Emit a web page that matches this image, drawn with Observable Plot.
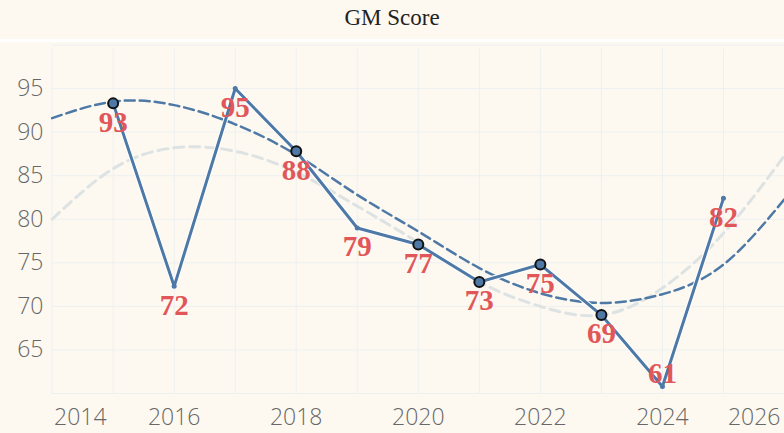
<!DOCTYPE html>
<html>
<head>
<meta charset="utf-8">
<script src="https://cdn.jsdelivr.net/npm/d3@7"></script>
<script src="https://cdn.jsdelivr.net/npm/@observablehq/plot@0.6"></script>
<style>
  html, body { margin: 0; padding: 0; background: #fdf9f1; }
  #title { height: 39px; line-height: 36px; text-align: center; font-family: "Liberation Serif", "Times New Roman", serif; font-size: 23px; color: #222; border-bottom: 3px solid #ffffff; box-sizing: content-box; }
  #chart svg { display: block; }
</style>
</head>
<body>
<div id="title">GM Score</div>
<div id="chart"></div>
<script>
const years = [2015, 2016, 2017, 2018, 2019, 2020, 2021, 2022, 2023, 2024, 2025];
const scores = [93.3, 72.3, 95.0, 87.8, 79.0, 77.1, 72.8, 74.8, 69.0, 60.8, 82.4];
const marked = [true, false, false, true, false, true, true, true, true, false, false];

const trendYears = [2014, 2015, 2016, 2017, 2018, 2019, 2020, 2021, 2022, 2023, 2024, 2025, 2026];
const trendDark = [91.6, 93.5, 93.1, 90.9, 87.4, 82.8, 78.6, 74.4, 71.5, 70.4, 71.4, 74.8, 82.3];
const trendLight = [80.0, 85.8, 88.2, 87.8, 85.4, 81.5, 77.3, 72.8, 70.0, 69.0, 72.1, 78.4, 87.3];

const yTicks = [65, 70, 75, 80, 85, 90, 95];
const yGrid = [60, 65, 70, 75, 80, 85, 90, 95, 100];
const xTicks = [2014, 2016, 2018, 2020, 2022, 2024, 2026];
const xGrid = [2014, 2015, 2016, 2017, 2018, 2019, 2020, 2021, 2022, 2023, 2024, 2025, 2026];

const data = years.map((y, i) => ({year: y, score: scores[i], marked: marked[i]}));
const trendD = trendYears.map((y, i) => ({year: y, v: trendDark[i]}));
const trendL = trendYears.map((y, i) => ({year: y, v: trendLight[i]}));

const blue = "#4e79a7", red = "#e15759", grid = "#edf0f1", axisColor = "#676767";
const tickFont = {fontSize: 23, fill: axisColor, fontFamily: "Open Sans", fontWeight: 300};
const labelFont = {fontSize: 29, fill: red, fontFamily: "Liberation Serif", fontWeight: "bold"};

const chart = Plot.plot({
  width: 784,
  height: 391,
  marginTop: 2.5,
  marginBottom: 40,
  marginLeft: 51.6,
  marginRight: 0,
  x: {domain: [2014, 2026], axis: null},
  y: {domain: [60, 100], axis: null},
  style: {background: "transparent", overflow: "visible"},
  marks: [
    Plot.ruleY(yGrid, {y: d => d, stroke: grid, strokeWidth: 1}),
    Plot.ruleX(xGrid, {x: d => d, y1: 60, y2: 100, stroke: grid, strokeWidth: 1, insetBottom: -4}),
    Plot.text(yTicks, {x: 2014, y: d => d, text: d => String(d), textAnchor: "end", dx: -8.6, ...tickFont}),
    Plot.text(xTicks.slice(1, -1), {x: d => d, y: 60, dy: 24.5, text: d => String(d), ...tickFont}),
    Plot.text(xTicks.slice(0, 1), {x: d => d, y: 60, dy: 24.5, dx: 2, textAnchor: "start", text: d => String(d), ...tickFont}),
    Plot.text(xTicks.slice(-1), {x: d => d, y: 60, dy: 24.5, dx: -4, textAnchor: "end", text: d => String(d), ...tickFont}),
    Plot.line(trendL, {x: "year", y: "v", curve: "natural", stroke: "#dde2e3", strokeWidth: 3, strokeDasharray: "10,6"}),
    Plot.line(trendD, {x: "year", y: "v", curve: "natural", stroke: blue, strokeWidth: 2.5, strokeDasharray: "10,5"}),
    Plot.line(data, {x: "year", y: "score", stroke: "#ffffff", strokeWidth: 5}),
    Plot.line(data, {x: "year", y: "score", stroke: blue, strokeWidth: 3}),
    Plot.dot(data.filter(d => !d.marked), {x: "year", y: "score", r: 2.5, fill: blue}),
    Plot.dot(data.filter(d => d.marked), {x: "year", y: "score", r: 5, fill: blue, stroke: "#111", strokeWidth: 2}),
    Plot.text(data.filter(d => d.score >= 63), {x: "year", y: "score", text: d => String(Math.round(d.score)), dy: 19, ...labelFont}),
    Plot.text(data.filter(d => d.score < 63), {x: "year", y: "score", text: d => String(Math.round(d.score)), dy: -13, ...labelFont})
  ]
});
document.getElementById("chart").appendChild(chart);
</script>
</body>
</html>
